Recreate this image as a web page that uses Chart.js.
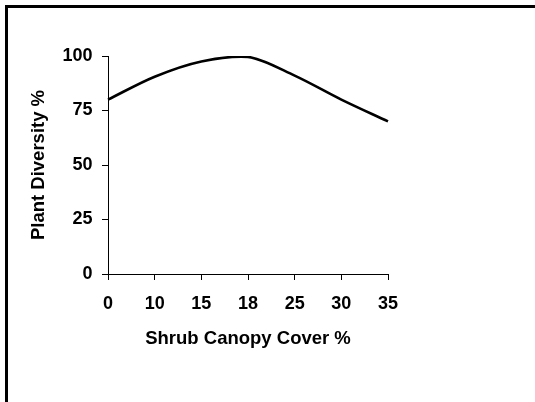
<!DOCTYPE html>
<html><head><meta charset="utf-8">
<script src="https://cdn.jsdelivr.net/npm/chart.js@4"></script>
<style>
html,body{margin:0;padding:0;background:#fff;width:535px;height:402px;overflow:hidden;}
#frame{position:absolute;left:5px;top:5px;width:530px;height:397px;border-top:3px solid #000;border-left:3px solid #000;box-sizing:border-box;z-index:2;pointer-events:none;}
#wrap{position:absolute;left:0;top:0;width:535px;height:402px;}
</style></head><body>
<div id="wrap"><canvas id="c"></canvas></div>
<div id="frame"></div>
<script>
const categories = ['0', '10', '15', '18', '25', '30', '35'];
const diversity = [80, 90.5, 97.5, 99.6, 91, 80, 70];
const yTicks = [0, 25, 50, 75, 100];
const xTitle = 'Shrub Canopy Cover %';
const yTitle = 'Plant Diversity %';

const tickFont = {family: '"Liberation Sans", Arial, sans-serif', size: 18, weight: 'bold'};
const titleFont = {family: '"Liberation Sans", Arial, sans-serif', size: 18.5, weight: 'bold'};

new Chart(document.getElementById('c'), {
  type: 'line',
  data: {
    labels: categories,
    datasets: [{
      data: diversity,
      borderColor: '#000',
      borderWidth: 2.6,
      pointRadius: 0,
      fill: false,
      tension: 0.33
    }]
  },
  options: {
    responsive: true,
    maintainAspectRatio: false,
    animation: false,
    layout: {padding: {top: 56, right: 147, bottom: 0, left: 0}},
    plugins: {legend: {display: false}, tooltip: {enabled: false}},
    scales: {
      x: {
        type: 'category',
        offset: false,
        grid: {drawOnChartArea: false, drawTicks: true, tickLength: 6, color: '#000', lineWidth: 1},
        border: {display: true, color: '#000', width: 1},
        ticks: {color: '#000', font: tickFont, padding: 13.2, maxRotation: 0, autoSkip: false},
        title: {display: true, text: xTitle, color: '#000', font: titleFont, padding: {top: 0, bottom: 52.2}},
        afterFit: (s) => { s.height = 128; }
      },
      y: {
        min: 0, max: 100,
        grid: {drawOnChartArea: false, drawTicks: true, tickLength: 6, color: '#000', lineWidth: 1},
        border: {display: true, color: '#000', width: 1},
        ticks: {color: '#000', font: tickFont, padding: 9.5},
        afterBuildTicks: (s) => { s.ticks = yTicks.map(v => ({value: v})); },
        title: {display: true, text: yTitle, color: '#000', font: titleFont, padding: {top: 27.9, bottom: 0}},
        afterFit: (s) => { s.width = 108; }
      }
    }
  }
});
</script>
</body></html>
